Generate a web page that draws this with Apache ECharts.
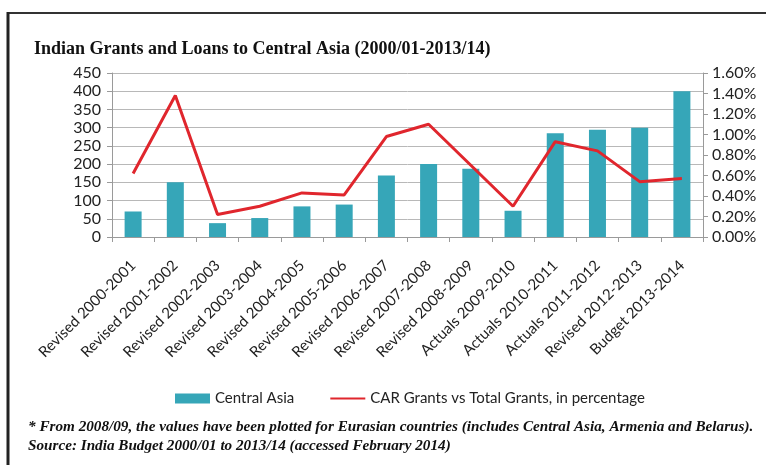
<!DOCTYPE html>
<html><head><meta charset="utf-8">
<script src="https://cdn.jsdelivr.net/npm/echarts@6/dist/echarts.min.js"></script>
<style>html,body{margin:0;padding:0;background:#fff}#c{width:766px;height:465px}</style>
</head><body><div id="c"></div>
<script>
const categories = ['Revised 2000-2001','Revised 2001-2002','Revised 2002-2003','Revised 2003-2004','Revised 2004-2005','Revised 2005-2006','Revised 2006-2007','Revised 2007-2008','Revised 2008-2009','Actuals 2009-2010','Actuals 2010-2011','Actuals 2011-2012','Revised 2012-2013','Budget 2013-2014'];
const centralAsia = [70, 150, 38, 52, 84, 89, 169, 200, 187, 72, 285, 294, 300, 400];
const carPercent = [0.62, 1.38, 0.22, 0.30, 0.43, 0.41, 0.98, 1.10, 0.70, 0.30, 0.93, 0.84, 0.54, 0.57];
const leftTicks = {min: 0, max: 450, interval: 50};
const rightTicks = {min: 0, max: 1.6, interval: 0.2};
const titleText = 'Indian Grants and Loans to Central Asia (2000/01-2013/14)';
const noteLine1 = '* From 2008/09, the values have been plotted for Eurasian countries (includes Central Asia, Armenia and Belarus).';
const noteLine2 = 'Source: India Budget 2000/01 to 2013/14 (accessed February 2014)';

const chart = echarts.init(document.getElementById('c'));
const sans = 'Lato, "Open Sans", sans-serif';
chart.setOption({
  animation: false,
  title: {text: titleText, left: 29, top: 35,
    textStyle: {fontFamily: '"Liberation Serif", serif', fontWeight: 'bold', fontSize: 18, color: '#111'}},
  graphic: [
    {type: 'line', shape: {x1: 7, y1: 13, x2: 766, y2: 13}, style: {stroke: '#333', lineWidth: 2}},
    {type: 'line', shape: {x1: 8, y1: 12, x2: 8, y2: 465}, style: {stroke: '#222', lineWidth: 3}},
    {type: 'text', left: 28, top: 420, style: {text: noteLine1, font: 'italic bold 15.2px "Liberation Serif", serif', fill: '#111'}},
    {type: 'text', left: 28, top: 439, style: {text: noteLine2, font: 'italic bold 15.2px "Liberation Serif", serif', fill: '#111'}}
  ],
  legend: {left: 170, top: 386, itemGap: 35, itemWidth: 35, itemHeight: 10,
    textStyle: {fontFamily: sans, fontSize: 15, color: '#222'},
    data: [{name: 'Central Asia', icon: 'rect'},
           {name: 'CAR Grants vs Total Grants, in percentage', itemStyle: {opacity: 0}}]},
  grid: {left: 112, right: 63, top: 73, bottom: 228, containLabel: false},
  xAxis: {type: 'category', data: categories,
    axisLine: {lineStyle: {color: '#9a9a9a'}},
    axisTick: {show: true, alignWithLabel: false, length: 5, lineStyle: {color: '#9a9a9a'}},
    axisLabel: {rotate: 45, fontFamily: sans, fontSize: 15, color: '#222', margin: 26, interval: 0}},
  yAxis: [
    {type: 'value', min: leftTicks.min, max: leftTicks.max, interval: leftTicks.interval,
      axisLine: {show: true, lineStyle: {color: '#9a9a9a'}},
      axisTick: {show: true, length: 5, lineStyle: {color: '#9a9a9a'}},
      splitLine: {lineStyle: {color: '#b8b8b8'}},
      axisLabel: {fontFamily: sans, fontSize: 16, color: '#222', margin: 11}},
    {type: 'value', min: rightTicks.min, max: rightTicks.max, interval: rightTicks.interval, position: 'right',
      axisLine: {show: true, lineStyle: {color: '#9a9a9a'}},
      axisTick: {show: true, length: 5, lineStyle: {color: '#9a9a9a'}},
      splitLine: {show: false},
      axisLabel: {fontFamily: sans, fontSize: 16, color: '#222', margin: 9,
        formatter: v => v.toFixed(2) + '%'}}
  ],
  series: [
    {name: 'Central Asia', type: 'bar', data: centralAsia, barWidth: 17,
      itemStyle: {color: '#36a6b8'}},
    {name: 'CAR Grants vs Total Grants, in percentage', type: 'line', yAxisIndex: 1, data: carPercent,
      symbol: 'none', lineStyle: {color: '#e0262d', width: 3}, itemStyle: {color: '#e0262d'}}
  ]
});
</script></body></html>
